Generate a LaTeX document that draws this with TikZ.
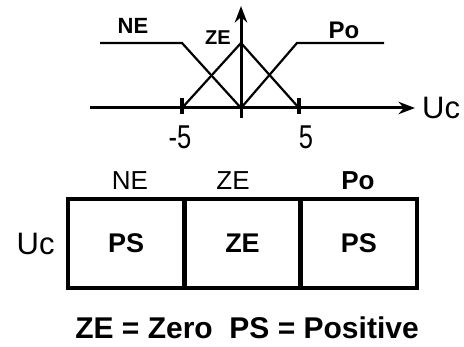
\documentclass[tikz,border=0pt]{standalone}
\usepackage{fontspec}
\setmainfont{Liberation Sans}
\usetikzlibrary{arrows.meta,positioning}

\begin{document}
\begin{tikzpicture}[x=1pt,y=-1pt,
   axis/.style={line width=3pt},
   mf/.style={line width=2.2pt},
   tick/.style={line width=3.5pt},
   cell/.style={draw, line width=4.5pt, minimum width=116.3pt,
                minimum height=89pt, inner sep=0pt,
                font=\fontsize{27}{29}\selectfont\bfseries},
   lbl/.style={font=\fontsize{22}{24}\selectfont\bfseries, inner sep=1pt},
   num/.style={font=\fontsize{30}{32}\selectfont, inner sep=1pt},
   head/.style={font=\fontsize{26}{28}\selectfont, inner sep=1pt},
   axlbl/.style={font=\fontsize{31}{33}\selectfont, inner sep=1pt},
   >=Stealth]
\useasboundingbox (0,0) rectangle (464,347);
% membership functions
\coordinate (O) at (241,108);
\coordinate (xs) at (90,108);
\coordinate (xe) at (415,108);
\coordinate (ys) at (241,118);
\coordinate (ye) at (241,6);
\coordinate (m5) at (182,108);
\coordinate (p5) at (299,108);
\coordinate (top) at (241,43);
\coordinate (neL) at (100,43);
\coordinate (neK) at (182,43);
\coordinate (poK) at (297,43);
\coordinate (poR) at (384,43);
\draw[axis,->] (xs) -- (xe);
\draw[axis,->] (ys) -- (ye);
\foreach \t in {m5,p5}
  \draw[tick] ([yshift=-6pt]\t) -- ([yshift=10pt]\t);
\draw[mf] (neL) -- (neK) -- (O);
\draw[mf] (poR) -- (poK) -- (O);
\draw[mf] (m5) -- (top) -- (p5);
\node[axlbl, right=6pt of xe] (uc1) {Uc};
\node[num] (m5lbl) at (180,137) {\scalebox{0.85}[1.1]{-5}};
\node[num] (p5lbl) at (306,137) {\scalebox{0.85}[1.1]{5}};
\node[lbl] (ne1) at (133,26) {NE};
\node[lbl, font=\fontsize{20}{22}\selectfont\bfseries] (ze1) at (218,38) {ZE};
\node[lbl, font=\fontsize{24}{26}\selectfont\bfseries] (po1) at (344,30) {Po};
% rule table
\foreach \n/\x/\t in {c1/126.2/PS, c2/242.5/ZE, c3/358.8/PS}
  \node[cell] (\n) at (\x,243.5) {\t};
\node[head] (ne2) at (130,181) {NE};
\node[head] (ze2) at (233,181) {ZE};
\node[head, font=\fontsize{26}{28}\selectfont\bfseries] (po2) at (358,181) {Po};
\node[axlbl, left=10pt of c1] (uc2) {Uc};
\node[font=\fontsize{30}{32}\selectfont\bfseries, inner sep=0pt,
      anchor=base] (key) at (247,339) {ZE = Zero\ \ PS = Positive};
\end{tikzpicture}
\end{document}
